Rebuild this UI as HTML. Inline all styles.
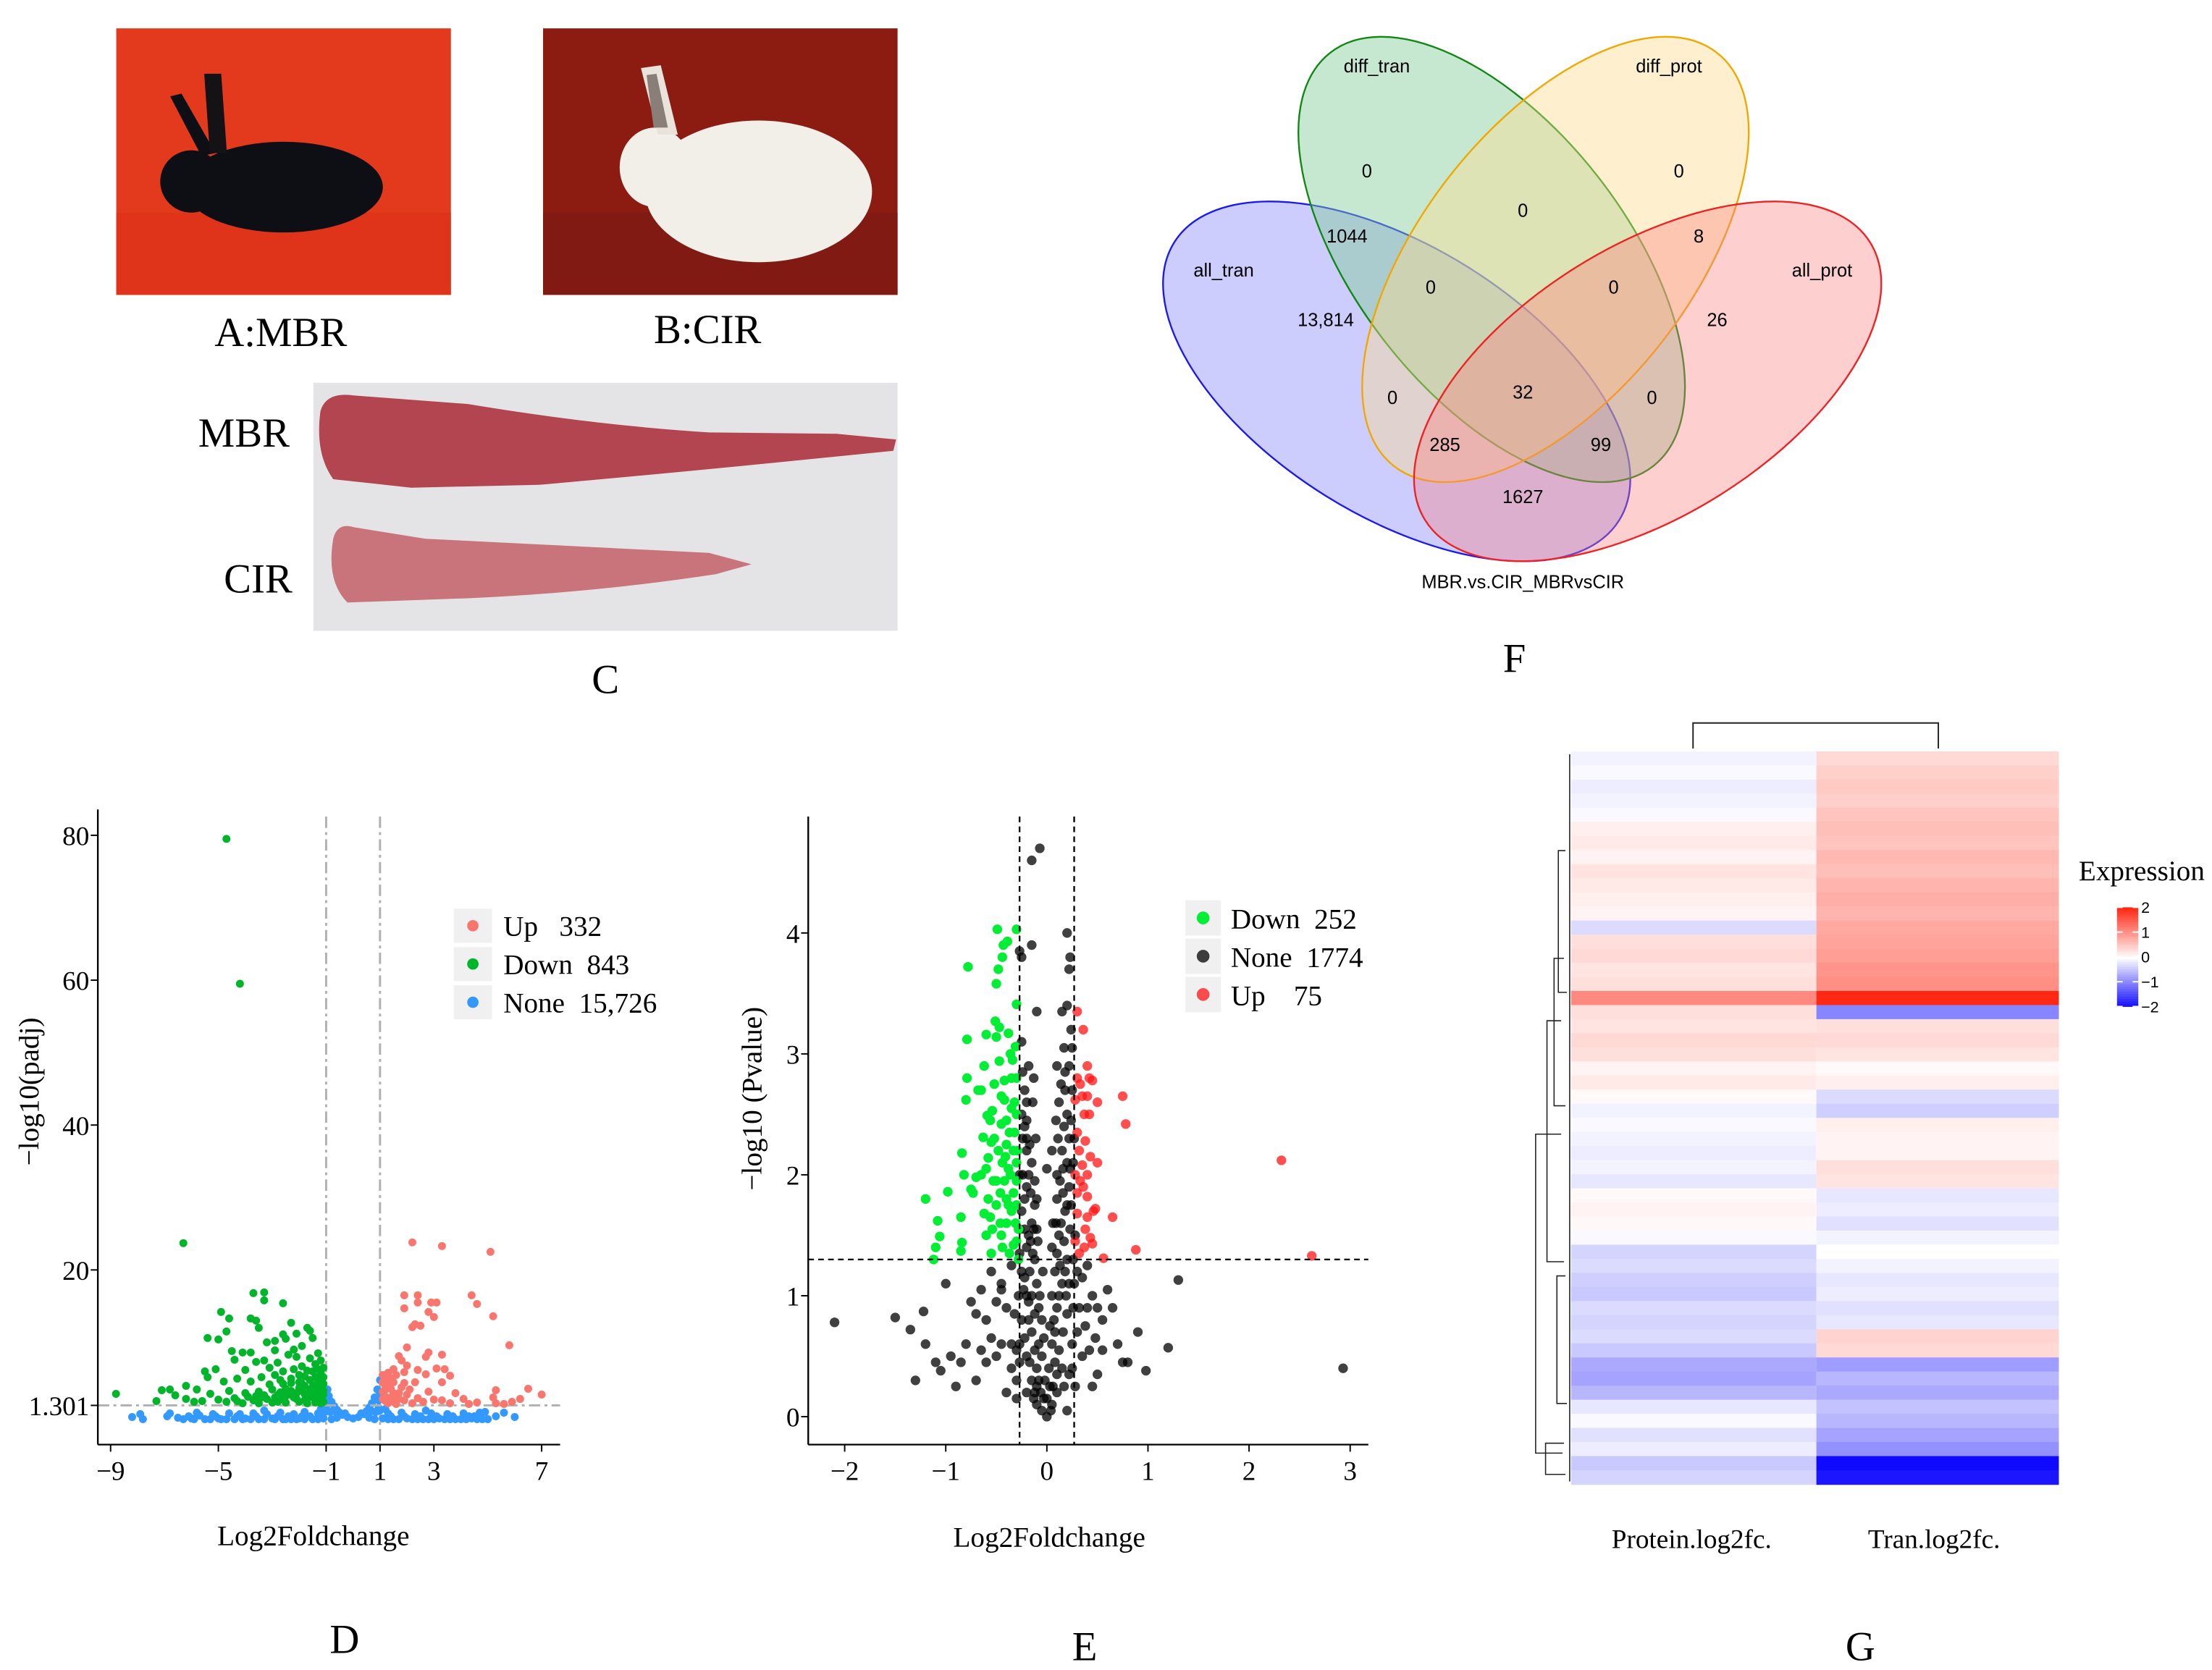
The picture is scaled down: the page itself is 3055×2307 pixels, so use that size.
<!DOCTYPE html>
<html><head><meta charset="utf-8"><style>html,body{margin:0;padding:0;background:#fff}svg{display:block}.pre{white-space:pre}</style></head>
<body>
<svg id="fig" xmlns="http://www.w3.org/2000/svg" width="3055" height="2307" viewBox="0 0 1560 1178" preserveAspectRatio="none" font-family="'Liberation Serif', serif">
<rect width="1560" height="1178" fill="#fff"/>
<g>
<rect x="82" y="20" width="236" height="188" fill="#e33a1e"/>
<rect x="82" y="150" width="236" height="58" fill="#e0341a"/>
<ellipse cx="200" cy="132" rx="70" ry="32" fill="#0d0f14"/>
<ellipse cx="135" cy="128" rx="22" ry="22" fill="#0d0f14"/>
<path d="M142,110 L120,68 L128,66 L152,108Z" fill="#0d0f14"/>
<path d="M148,108 L144,52 L156,52 L160,108Z" fill="#151215"/>
</g>
<g>
<rect x="383" y="20" width="250" height="188" fill="#8c1c12"/>
<rect x="383" y="150" width="250" height="58" fill="#821a14"/>
<ellipse cx="535" cy="135" rx="80" ry="50" fill="#f2efe8"/>
<ellipse cx="462" cy="118" rx="25" ry="28" fill="#f2efe8"/>
<path d="M464,95 L452,48 L466,46 L478,95Z" fill="#e9e3dc"/>
<path d="M461,90 L456,53 L463,52 L471,90Z" fill="#8a7f78"/>
</g>
<text x="198" y="244" font-size="29" text-anchor="middle">A:MBR</text>
<text x="499" y="242" font-size="29" text-anchor="middle">B:CIR</text>
<g>
<rect x="221" y="270" width="412" height="175" fill="#e4e4e6"/>
<path d="M226,290 Q230,276 250,279 L330,285 Q420,300 500,305 L590,306 L632,310 L630,318 L560,325 Q460,335 380,342 L290,344 L235,338 Q222,320 226,290Z" fill="#b2454f"/>
<path d="M235,380 Q238,368 250,372 L300,380 L400,385 L500,390 L530,398 L505,405 Q420,418 330,422 L245,425 Q230,410 235,380Z" fill="#c9737b"/>
</g>
<text x="172" y="315" font-size="29" text-anchor="middle">MBR</text>
<text x="182" y="418" font-size="29" text-anchor="middle">CIR</text>
<text x="427" y="489" font-size="29" text-anchor="middle">C</text>

<g font-family="'Liberation Sans', sans-serif" font-size="13">
<ellipse cx="985" cy="269" rx="185" ry="95" transform="rotate(32 985 269)" fill="rgba(120,120,250,0.38)" stroke="#1a1aee" stroke-width="1.2"/>
<ellipse cx="1052" cy="183" rx="185" ry="95" transform="rotate(52 1052 183)" fill="rgba(130,205,150,0.45)" stroke="#118811" stroke-width="1.2"/>
<ellipse cx="1097" cy="183" rx="185" ry="95" transform="rotate(-52 1097 183)" fill="rgba(253,220,140,0.42)" stroke="#f0a800" stroke-width="1.2"/>
<ellipse cx="1162" cy="269" rx="185" ry="95" transform="rotate(-32 1162 269)" fill="rgba(250,130,130,0.38)" stroke="#ee2222" stroke-width="1.2"/>
<text x="971" y="51" text-anchor="middle">diff_tran</text>
<text x="1177" y="51" text-anchor="middle">diff_prot</text>
<text x="863" y="195" text-anchor="middle">all_tran</text>
<text x="1285" y="195" text-anchor="middle">all_prot</text>
<text x="964" y="125" text-anchor="middle">0</text>
<text x="1184" y="125" text-anchor="middle">0</text>
<text x="1074" y="153" text-anchor="middle">0</text>
<text x="950" y="171" text-anchor="middle">1044</text>
<text x="1198" y="171" text-anchor="middle">8</text>
<text x="1009" y="207" text-anchor="middle">0</text>
<text x="1138" y="207" text-anchor="middle">0</text>
<text x="935" y="230" text-anchor="middle">13,814</text>
<text x="1211" y="230" text-anchor="middle">26</text>
<text x="1074" y="281" text-anchor="middle">32</text>
<text x="982" y="285" text-anchor="middle">0</text>
<text x="1165" y="285" text-anchor="middle">0</text>
<text x="1019" y="318" text-anchor="middle">285</text>
<text x="1129" y="318" text-anchor="middle">99</text>
<text x="1074" y="355" text-anchor="middle">1627</text>
<text x="1074" y="415" text-anchor="middle">MBR.vs.CIR_MBRvsCIR</text>
</g>
<text x="1068" y="474" font-size="29" text-anchor="middle">F</text>

<g id="plotD"></g>
<g id="plotE"></g>
<g id="plotG"></g>

<text x="243" y="1166" font-size="29" text-anchor="middle">D</text>
<text x="765" y="1171" font-size="29" text-anchor="middle">E</text>
<text x="1312" y="1171" font-size="29" text-anchor="middle">G</text>
</svg>
<script>
// ===== Panel D data =====
const dTicksX = [-9, -5, -1, 1, 3, 7];
const dTicksY = [1.301, 20, 40, 60, 80];
const dUp = [[2.2,23.8],[3.3,23.3],[5.1,22.5],[1.9,16.5],[2.4,16.5],[4.4,16.5],[4.6,15.3],[2.4,15.5],[2.9,15.5],[3.1,15.5],[1.9,14.7],[2.8,14.2],[3,13.5],[5.2,13.6],[2.5,12.3],[2.2,12.1],[2.3,12.5],[5.8,9.6],[2,9.3],[2.8,8.6],[3.3,8.3],[1.7,8.1],[1.8,7.5],[2.7,8],[2,6.8],[1.5,6.3],[2.4,6.2],[1.9,5.9],[3.1,6.4],[3.4,6.3],[1.3,5.8],[1.6,5.5],[2.7,5.6],[3.6,5.4],[1.2,4.8],[1.9,4.4],[2.3,4.5],[3.3,4.5],[6.5,3.6],[1.4,3.6],[2.1,3.5],[2.8,3.2],[3.8,3.0],[5.3,3.4],[7,2.8],[1.2,2.5],[1.7,2.2],[2.4,2.3],[3,2.1],[3.3,2.0],[4.1,2.2],[5.2,2.4],[5.3,1.6],[5.9,1.8],[6.2,2.2],[4.6,1.7],[1.5,1.8],[1.1,3.2],[1.3,1.6],[2,2.8],[1.1,5.5],[1.2,4],[1.5,4.5],[1.7,3],[1.4,2.4],[1.2,1.9],[1.6,1.5],[2.2,1.6],[2.6,1.8],[3.6,1.6],[4.3,1.5],[5.6,1.5],[1.1,4.5],[1.3,4.2],[1.5,3.0],[1.8,3.8],[1.2,3.5],[1.4,5.0],[1.6,2.6],[1.9,2.0],[1.1,2.2]];
const dDown = [[-4.7,79.5],[-4.2,59.5],[-6.3,23.7],[-8.8,2.9],[-3.7,16.8],[-3.3,16.9],[-3.3,15.8],[-2.6,15.4],[-4.9,14.2],[-4.6,13.3],[-3.8,13.3],[-3.6,13],[-3.5,12],[-4.7,11.5],[-5.4,10.6],[-5,10.4],[-2.3,12.7],[-1.7,12],[-1.6,11.6],[-2.1,11.2],[-2.6,11.1],[-2.9,10.2],[-3.2,10],[-2.5,10.5],[-4.5,8.8],[-4.1,8.6],[-3.8,8.6],[-2.4,8.3],[-1.9,9.5],[-1.5,10.6],[-2.2,9],[-4.4,7.6],[-3.6,7.3],[-3.3,7.5],[-2.8,7.2],[-2.1,8],[-1.3,8.5],[-5.5,6],[-5.1,6.3],[-4,6.2],[-3.1,6.5],[-2.6,6],[-1.9,6.7],[-1.4,7],[-5.4,5.2],[-4.8,4.6],[-4.3,5],[-3.8,4.6],[-3.4,5.2],[-2.9,5.5],[-2.3,5],[-1.8,5.3],[-1.2,5.8],[-6.2,4],[-6.8,3.5],[-7.1,3.4],[-6.6,2.7],[-5.8,3.5],[-5.3,2.9],[-4.6,3.3],[-4,3],[-3.5,3.2],[-3,3.5],[-2.5,3.6],[-2,3.7],[-1.5,3.9],[-1.1,4.3],[-5.6,1.9],[-5,2.1],[-4.4,2.3],[-3.7,2],[-3.2,2.2],[-2.7,2.1],[-2.2,2.4],[-1.7,2.5],[-1.2,2.3],[-1.6,4.8],[-2.6,4.3],[-1.3,3],[-1.1,1.8],[-1.4,1.7],[-2.0,1.8],[-3.0,1.7],[-4.1,1.6],[-1.3,6.3],[-1.6,7.8],[-2.9,8.9],[-6.2,2.2],[-5.9,1.8],[-7.3,1.9],[-1.2,3.6],[-1.5,3.2],[-1.8,2.9],[-2.1,3],[-2.4,2.8],[-2.8,2.7],[-3.3,2.7],[-3.9,2.5],[-1.1,2.8],[-1.9,4.3],[-2.3,4.4],[-2.7,4.8],[-3.1,4.2],[-1.4,5.2],[-1.7,6.1],[-2.2,6.3],[-2.5,1.7],[-1.7,1.6],[-3.5,1.6],[-4.7,1.8],[-1.3,4.6],[-1.6,3.5],[-2.0,5.5],[-1.2,7.5],[-1.1,3.4],[-1.2,4.9],[-1.4,4.1],[-1.3,2.0],[-1.5,2.4],[-1.8,2.0],[-1.9,3.3],[-2.1,2.2],[-2.3,3.3],[-2.5,2.6],[-1.1,5.2],[-1.5,6.0],[-1.8,4.0],[-2.0,4.5],[-1.3,3.9],[-1.6,2.9],[-2.7,3.1],[-2.9,2.4],[-3.4,2.4],[-1.1,6.5],[-1.2,1.6],[-2.8,1.8],[-3.6,2.6],[-4.3,1.9]];
const dNone = [[-8.2,-0.3],[-7.8,-0.6],[-7.9,0.1],[-6.9,-0.2],[-6.8,0.2],[-6.5,-0.4],[-6,-0.5],[-5.8,0.3],[-5.5,-0.6],[-5.2,0.1],[-5,-0.5],[-4.6,0.2],[-4.4,-0.6],[-4.2,0.1],[-4,-0.5],[-3.7,0.2],[-3.5,-0.6],[-3.2,0.1],[-3,-0.5],[-2.7,0.3],[-2.5,-0.6],[-2.2,0.1],[-2,-0.5],[-1.8,0.4],[-1.5,-0.6],[-1.3,0.2],[-1.1,-0.5],[-1,1.0],[-0.95,3.5],[-0.9,2.6],[-0.8,1.8],[-0.7,1.2],[-0.6,0.7],[-0.5,0.3],[-0.4,0],[-0.2,-0.3],[0,-0.5],[0.2,-0.3],[0.4,0.1],[0.5,0.5],[0.6,1.0],[0.7,1.6],[0.8,2.4],[0.9,3.5],[1.0,4.8],[0.95,1.0],[1.1,-0.5],[1.3,0.2],[1.5,-0.6],[1.8,0.3],[2,-0.5],[2.3,0.1],[2.6,-0.6],[2.9,0.2],[3.2,-0.5],[3.5,0.1],[3.8,-0.6],[4.1,0.2],[4.4,-0.5],[4.7,0.3],[5,-0.6],[5.3,-0.2],[5.6,0.3],[6.0,-0.3],[-1.2,0.8],[1.2,0.8],[-0.85,0.4],[0.85,0.4],[-3.3,0.6],[2.7,0.6],[-5.7,-0.1],[4.9,0.4],[-6.3,-0.6],[-5.9,-0.6],[-5.3,-0.6],[-4.9,-0.6],[-4.7,-0.6],[-4.1,-0.6],[-3.8,-0.6],[-3.3,-0.6],[-2.9,-0.6],[-2.6,-0.6],[-2.3,-0.6],[-2.1,-0.6],[-1.8,-0.6],[-1.3,-0.6],[-0.8,-0.6],[-0.6,-0.4],[0.6,-0.4],[0.8,-0.6],[1.3,-0.6],[1.7,-0.6],[2.2,-0.6],[2.4,-0.6],[2.8,-0.6],[3.0,-0.6],[3.4,-0.6],[3.6,-0.6],[4.0,-0.6],[4.2,-0.6],[4.6,-0.6],[4.8,-0.6],[-6.1,-0.2],[-5.1,-0.2],[-4.3,-0.2],[-3.6,-0.2],[-2.8,-0.2],[-2.4,-0.2],[-1.9,-0.2],[-1.6,-0.2],[-1.2,-0.2],[1.4,-0.2],[1.9,-0.2],[2.5,-0.2],[3.1,-0.2],[3.7,-0.2],[4.3,-0.2],[4.5,-0.2],[-0.3,0.2],[0.3,0.2],[-0.7,0.5],[0.7,0.5],[-0.95,1.8],[0.95,2.0],[-0.98,2.7],[1.0,3.0],[-1.0,0.5],[1.0,0.6]];
// ===== Panel E data =====
const eTicksX = [-2, -1, 0, 1, 2, 3];
const eTicksY = [0, 1, 2, 3, 4];
const eDown = [[-1.2,1.8],[-1.08,1.62],[-1.06,1.49],[-1.1,1.4],[-1.12,1.3],[-0.98,1.86],[-0.85,1.65],[-0.85,1.37],[-0.84,1.44],[-0.82,2.0],[-0.84,2.18],[-0.8,2.62],[-0.79,2.8],[-0.79,3.12],[-0.78,3.72],[-0.75,1.88],[-0.73,1.85],[-0.7,1.98],[-0.68,2.7],[-0.65,2.7],[-0.63,2.31],[-0.62,2.9],[-0.6,3.16],[-0.59,2.49],[-0.58,2.14],[-0.56,1.65],[-0.55,2.27],[-0.54,2.53],[-0.52,2.75],[-0.51,3.27],[-0.5,3.58],[-0.5,3.14],[-0.49,4.03],[-0.48,3.7],[-0.47,2.94],[-0.46,1.85],[-0.45,2.42],[-0.44,3.8],[-0.43,3.9],[-0.42,2.62],[-0.41,2.15],[-0.4,1.6],[-0.39,3.93],[-0.38,3.17],[-0.37,2.35],[-0.36,2.0],[-0.35,1.7],[-0.34,2.95],[-0.33,1.42],[-0.32,2.6],[-0.31,3.06],[-0.3,3.41],[-0.3,4.03],[-0.29,2.2],[-0.28,1.55],[-0.28,1.3],[-0.6,1.5],[-0.55,1.35],[-0.45,1.5],[-0.5,1.95],[-0.42,2.78],[-0.6,2.05],[-0.4,1.8],[-0.35,2.55],[-0.65,2.0],[-0.52,2.3],[-0.47,3.22],[-0.58,1.8],[-0.33,1.85],[-0.37,1.35],[-0.44,2.1],[-0.62,1.68],[-0.5,1.75],[-0.3,2.8],[-0.32,2.35],[-0.3,1.95],[-0.31,1.6],[-0.38,2.05],[-0.45,2.65],[-0.54,1.55],[-0.36,3.0],[-0.4,2.45],[-0.3,2.5],[-0.3,2.1],[-0.3,1.75],[-0.3,1.45],[-0.33,2.2],[-0.35,2.8],[-0.42,1.95],[-0.48,2.2],[-0.46,1.6],[-0.53,1.95],[-0.56,2.45],[-0.4,2.25],[-0.38,1.75],[-0.44,1.4]];
const eNone = [[-0.1,0.1],[-0.05,0.05],[0,0],[0.05,0.1],[-0.15,0.3],[-0.1,0.4],[-0.2,0.5],[-0.15,0.7],[-0.25,0.8],[-0.2,1],[-0.1,1.1],[-0.25,1.2],[-0.2,1.4],[-0.15,1.6],[-0.25,1.7],[-0.2,1.9],[-0.15,2.1],[-0.2,2.3],[-0.25,2.5],[-0.22,2.7],[-0.18,2.9],[-0.25,3.1],[-0.1,3.35],[-0.07,4.7],[-0.15,4.6],[-0.15,3.9],[-0.27,3.85],[-0.25,3.8],[-0.2,2.2],[-0.1,1.8],[-0.12,1.3],[-0.05,0.8],[-0.05,0.5],[-0.3,0.3],[-0.35,0.6],[-0.4,0.9],[-0.45,1.1],[-0.5,0.5],[-0.6,0.8],[-0.7,0.3],[-0.8,0.6],[-0.9,0.25],[-1,1.1],[-1.1,0.45],[-1.2,0.6],[-1.3,0.3],[-1.5,0.82],[-1.35,0.72],[-2.1,0.78],[-1.05,0.38],[-0.95,0.5],[-0.75,0.95],[-0.55,1.2],[-0.65,1.05],[-0.35,1.25],[-0.4,0.2],[-0.3,0.15],[-0.6,0.45],[-0.85,0.45],[-1.22,0.87],[-0.45,1.05],[-0.5,0.95],[-0.7,0.85],[0.1,0.2],[0.15,0.4],[0.05,0.6],[0.1,0.9],[0.15,1.1],[0.2,1.3],[0.12,1.5],[0.18,1.7],[0.22,1.9],[0.1,2.0],[0.15,2.2],[0.2,2.5],[0.25,2.7],[0.18,2.85],[0.25,3.05],[0.2,3.4],[0.15,3.35],[0.2,4],[0.23,3.8],[0.22,3.7],[0.05,2.2],[0,2.05],[0.1,1.8],[0.08,1.2],[0.3,0.7],[0.35,0.5],[0.4,0.9],[0.45,1.0],[0.5,0.35],[0.55,0.8],[0.6,1.05],[0.65,0.9],[0.7,0.6],[0.75,0.45],[0.8,0.45],[0.9,0.7],[0.98,0.38],[1.2,0.57],[1.3,1.13],[2.93,0.4],[0.3,1.2],[0.35,1.15],[0.45,0.25],[0.2,0.05],[0.25,0.6],[0.28,0.25],[0.4,1.25],[0.48,0.65],[0.05,1.4],[-0.02,0.3],[-0.12,0.2],[-0.08,0.6],[-0.18,0.95],[-0.22,1.15],[-0.16,1.45],[-0.12,1.75],[-0.18,2.0],[-0.22,2.4],[-0.14,2.6],[-0.08,0.9],[0.02,0.4],[0.08,0.7],[0.12,1.0],[0.18,1.2],[0.14,1.6],[0.2,1.75],[0.16,2.05],[0.22,2.3],[0.12,2.6],[0.18,2.7],[0.06,0.25],[-0.03,0.15],[-0.28,1.0],[-0.3,0.55],[0.26,0.9],[0.28,1.5],[0.26,2.1],
[-0.13,0.15],[-0.17,0.45],[-0.12,0.55],[-0.22,0.65],[-0.18,0.8],[-0.12,0.85],[-0.23,1.05],[-0.15,1.0],[-0.17,1.2],[-0.27,1.35],[-0.14,1.35],[-0.22,1.55],[-0.18,1.5],[-0.13,1.55],[-0.22,1.8],[-0.16,1.85],[-0.24,2.0],[-0.12,1.95],[-0.17,2.25],[-0.24,2.3],[-0.2,2.6],[-0.24,2.85],[-0.2,2.45],[-0.27,2.0],[-0.27,1.55],[-0.27,0.6],[-0.08,0.3],[-0.09,1.45],[-0.07,1.0],[0.0,0.15],[0.03,0.25],[0.08,0.45],[0.12,0.55],[0.16,0.7],[0.07,0.8],[0.2,0.85],[0.13,1.25],[0.19,1.0],[0.22,1.1],[0.1,1.35],[0.17,1.45],[0.23,1.55],[0.09,1.6],[0.16,1.85],[0.24,1.75],[0.13,1.95],[0.2,2.1],[0.23,2.05],[0.11,2.3],[0.17,2.4],[0.24,2.45],[0.14,2.75],[0.22,2.9],[0.17,3.05],[0.24,3.2],[0.05,1.0],[0.03,0.75],[-0.04,1.2],[-0.03,0.65],[0.25,0.4],[0.27,1.1],[0.26,1.3],[0.27,2.3],[-0.32,0.85],[-0.35,0.4],[0.32,0.9],[0.38,0.75],[-0.45,0.6],[-0.55,0.65],[-0.65,0.55],[0.42,0.55],[0.5,0.9],[0.55,0.55],[-0.1,0.25],[0.1,0.35],[-0.06,0.2],[0.04,0.05],[-0.2,0.2],[0.17,0.25],[-0.27,0.45],[0.22,0.35],[-0.1,1.55],[0.06,1.6],[-0.11,2.3],[0.09,2.45],[-0.13,2.8],[0.1,2.9]];
const eUp = [[0.3,3.35],[0.36,3.2],[0.4,2.9],[0.3,2.8],[0.33,2.75],[0.42,2.8],[0.45,2.78],[0.35,2.65],[0.4,2.65],[0.5,2.6],[0.37,2.5],[0.42,2.5],[0.3,2.35],[0.38,2.28],[0.32,2.2],[0.43,2.15],[0.5,2.1],[0.28,2.0],[0.4,2.0],[0.33,1.95],[0.36,1.9],[0.3,1.85],[0.4,1.82],[0.46,1.7],[0.48,1.72],[0.3,1.68],[0.38,1.55],[0.43,1.48],[0.28,1.45],[0.45,1.43],[0.37,1.4],[0.32,1.35],[0.56,1.31],[0.75,2.65],[0.78,2.42],[0.65,1.65],[0.88,1.38],[2.32,2.12],[2.62,1.33],[0.28,2.62],[0.35,2.08],[0.4,1.65]];
// ===== Panel G data (rows top to bottom) =====
const gColumns = ["Protein.log2fc.", "Tran.log2fc."];
const gProtein = [-0.1,-0.05,-0.15,-0.1,-0.05,0.15,0.2,0.1,0.25,0.2,0.15,0.1,-0.3,0.3,0.35,0.25,0.3,1.1,0.3,0.25,0.35,0.3,0.1,0.2,0.05,-0.1,-0.05,-0.1,-0.15,-0.1,-0.2,0.05,0.1,0.05,-0.05,-0.35,-0.3,-0.4,-0.45,-0.3,-0.35,-0.3,-0.45,-0.7,-0.75,-0.6,-0.2,-0.05,-0.25,-0.15,-0.45,-0.35];
const gTran = [0.35,0.45,0.5,0.45,0.55,0.6,0.55,0.65,0.6,0.7,0.75,0.7,0.8,0.85,0.9,1.0,1.05,2.0,-1.0,0.3,0.35,0.25,0.05,0.15,-0.3,-0.4,0.15,0.1,0.1,0.3,0.25,-0.2,-0.15,-0.25,-0.1,0.0,-0.1,-0.2,-0.15,-0.25,-0.2,0.4,0.35,-0.8,-0.6,-0.7,-0.5,-0.6,-0.75,-0.9,-2.0,-1.9];
const gLegendTicks = [2, 1, 0, -1, -2];

const NS = "http://www.w3.org/2000/svg";
function mk(parent, tag, attrs, txt){ const e=document.createElementNS(NS,tag); for(const k in attrs) e.setAttribute(k,attrs[k]); if(txt!==undefined) e.textContent=txt; parent.appendChild(e); return e; }

// ---- Panel D ----
(function(){
  const g = document.getElementById('plotD');
  const xs = v => 249 + 19*v;
  const ys = v => 998 - 5.11*v;
  const L=69,R=395,T=571,B=1019;
  mk(g,'line',{x1:xs(-1),x2:xs(-1),y1:T+5,y2:B,stroke:'#b0b0b0','stroke-width':1.5,'stroke-dasharray':'8 3 2 3'});
  mk(g,'line',{x1:xs(1),x2:xs(1),y1:T+5,y2:B,stroke:'#b0b0b0','stroke-width':1.5,'stroke-dasharray':'8 3 2 3'});
  dNone.forEach(p=>{ const c=mk(g,'circle',{cx:xs(p[0]),cy:ys(p[1]),r:2.8,fill:'#3399ff'});
    
     });
  mk(g,'line',{x1:L,x2:R,y1:ys(1.301),y2:ys(1.301),stroke:'#b0b0b0','stroke-width':1.5,'stroke-dasharray':'8 3 2 3'});
  dDown.forEach(p=>{ const c=mk(g,'circle',{cx:xs(p[0]),cy:ys(p[1]),r:2.8,fill:'#00b52a'});
    
     });
  dUp.forEach(p=>{ const c=mk(g,'circle',{cx:xs(p[0]),cy:ys(p[1]),r:2.8,fill:'#f8766d'});
    
     });
  mk(g,'line',{x1:L,x2:L,y1:T,y2:B,stroke:'#000','stroke-width':1.2});
  mk(g,'line',{x1:L,x2:R,y1:B,y2:B,stroke:'#000','stroke-width':1.2});
  dTicksX.forEach(t=>{ mk(g,'line',{x1:xs(t),x2:xs(t),y1:B,y2:B+5,stroke:'#000'});
    const tx=mk(g,'text',{x:xs(t),y:B+25,'font-size':19,'text-anchor':'middle'},(t<0?'\u2212'+(-t):String(t)));
    
     });
  dTicksY.forEach(t=>{ mk(g,'line',{x1:L-5,x2:L,y1:ys(t),y2:ys(t),stroke:'#000'});
    const tx=mk(g,'text',{x:L-6,y:ys(t)+7,'font-size':19,'text-anchor':'end'},String(t));
    
     });
  const yt=mk(g,'text',{x:0,y:0,'font-size':20,'text-anchor':'middle',transform:'translate(27,770) rotate(-90)'},'\u2212log10(padj)');
  
  
  const xt=mk(g,'text',{x:221,y:1090,'font-size':20,'text-anchor':'middle'},'Log2Foldchange');
  
  
  const leg=[['#f8766d','Up   332'],['#00b52a','Down  843'],['#3399ff','None  15,726']];
  leg.forEach((l,i)=>{ const y=641+i*27;
    const gg=mk(g,'g',{});
    
    
    mk(gg,'rect',{x:320,y:y,width:27,height:24,fill:'#f0f0f0'});
    mk(gg,'circle',{cx:333.5,cy:y+12,r:4,fill:l[0]});
    mk(gg,'text',{x:355,y:y+19,'font-size':20,'class':'pre'},l[1]); });
})();

// ---- Panel E ----
(function(){
  const g = document.getElementById('plotE');
  const xs = v => 738.3 + 71.3*v;
  const ys = v => 999.3 - 85.3*v;
  const L=570,R=965,T=576,B=1019;
  eNone.forEach(p=>{ const c=mk(g,'circle',{cx:xs(p[0]),cy:ys(p[1]),r:3.4,fill:'rgba(0,0,0,0.75)'});
    
     });
  eDown.forEach(p=>{ const c=mk(g,'circle',{cx:xs(p[0]),cy:ys(p[1]),r:3.4,fill:'#00ee33'});
    
     });
  eUp.forEach(p=>{ const c=mk(g,'circle',{cx:xs(p[0]),cy:ys(p[1]),r:3.4,fill:'rgba(255,20,20,0.75)'});
    
     });
  mk(g,'line',{x1:xs(-0.27),x2:xs(-0.27),y1:T,y2:B,stroke:'#000','stroke-width':1.2,'stroke-dasharray':'4 3'});
  mk(g,'line',{x1:xs(0.27),x2:xs(0.27),y1:T,y2:B,stroke:'#000','stroke-width':1.2,'stroke-dasharray':'4 3'});
  mk(g,'line',{x1:L,x2:R,y1:ys(1.3),y2:ys(1.3),stroke:'#000','stroke-width':1.2,'stroke-dasharray':'4 3'});
  mk(g,'line',{x1:L,x2:L,y1:T,y2:B,stroke:'#000','stroke-width':1.2});
  mk(g,'line',{x1:L,x2:R,y1:B,y2:B,stroke:'#000','stroke-width':1.2});
  eTicksX.forEach(t=>{ mk(g,'line',{x1:xs(t),x2:xs(t),y1:B,y2:B+5,stroke:'#000'});
    const tx=mk(g,'text',{x:xs(t),y:B+25,'font-size':19,'text-anchor':'middle'},(t<0?'\u2212'+(-t):String(t)));
    
     });
  eTicksY.forEach(t=>{ mk(g,'line',{x1:L-5,x2:L,y1:ys(t),y2:ys(t),stroke:'#000'});
    const tx=mk(g,'text',{x:L-6,y:ys(t)+7,'font-size':19,'text-anchor':'end'},String(t));
    
     });
  const yt=mk(g,'text',{x:0,y:0,'font-size':20,'text-anchor':'middle',transform:'translate(537,775) rotate(-90)'},'\u2212log10 (Pvalue)');
  
  
  const xt=mk(g,'text',{x:740,y:1091,'font-size':20,'text-anchor':'middle'},'Log2Foldchange');
  
  
  const leg=[['#00ee33','Down  252'],['rgba(0,0,0,0.75)','None  1774'],['rgba(255,20,20,0.75)','Up    75']];
  leg.forEach((l,i)=>{ const y=635+i*27;
    const gg=mk(g,'g',{});
    
    
    mk(gg,'rect',{x:836,y:y,width:25,height:25,fill:'#f0f0f0'});
    mk(gg,'circle',{cx:848.5,cy:y+12.5,r:4.5,fill:l[0]});
    mk(gg,'text',{x:868,y:y+20,'font-size':20,'class':'pre'},l[1]); });
})();

// ---- Panel G ----
(function(){
  const g = document.getElementById('plotG');
  const X0=1108, X1=1281, X2=1452, T=530, B=1047;
  const n = gProtein.length, h=(B-T)/n;
  function col(v){ v=Math.max(-2,Math.min(2,v));
    if(v>=0){ const t=v/2; return `rgb(255,${Math.round(255-215*t)},${Math.round(255-235*t)})`; }
    const t=-v/2; return `rgb(${Math.round(255-240*t)},${Math.round(255-245*t)},255)`; }
  const cols=[gProtein,gTran], xs=[X0,X1], ws=[X1-X0,X2-X1];
  cols.forEach((arr,ci)=>{ arr.forEach((v,i)=>{
    const r=mk(g,'rect',{x:xs[ci],y:T+i*h,width:ws[ci],height:h+0.4,fill:col(v)});
    
     }); });
  const dg=mk(g,'g',{stroke:'#222','stroke-width':1,fill:'none'});
  
  
  mk(dg,'path',{d:'M1194,528 V510 H1367 V528'});
  const rg=mk(g,'g',{stroke:'#222','stroke-width':0.8,fill:'none'});
  
  
  mk(rg,'path',{d:'M1107,532 V1045 M1101,800 H1083 V1025 H1102 M1101,720 H1091 V890 H1103 M1103,676 H1096 V780 H1104 M1103,1018 H1090 V1040 H1104 M1104,600 H1099 V700 H1105 M1104,900 H1098 V990 H1105'});
  cols.forEach((_,ci)=>{ const t=mk(g,'text',{x:[1193,1364][ci],y:1092,'font-size':19,'text-anchor':'middle'},gColumns[ci]);
    
     });
  const lt=mk(g,'text',{x:1466,y:621,'font-size':20},'Expression');
  
  
  const ly = v => 675 - 17.5*v;
  for(let i=0;i<40;i++){ const v=2-i*0.1; mk(g,'rect',{x:1493,y:ly(v),width:15,height:2,fill:col(v)}); }
  gLegendTicks.forEach(t=>{ mk(g,'line',{x1:1493,x2:1497,y1:ly(t),y2:ly(t),stroke:'#fff'}); mk(g,'line',{x1:1504,x2:1508,y1:ly(t),y2:ly(t),stroke:'#fff'});
    const tx=mk(g,'text',{x:1510,y:ly(t)+4,'font-size':11,'font-family':"'Liberation Sans', sans-serif"},(t<0?'\u2212'+(-t):String(t)));
    
     });
})();
</script>
</body></html>
